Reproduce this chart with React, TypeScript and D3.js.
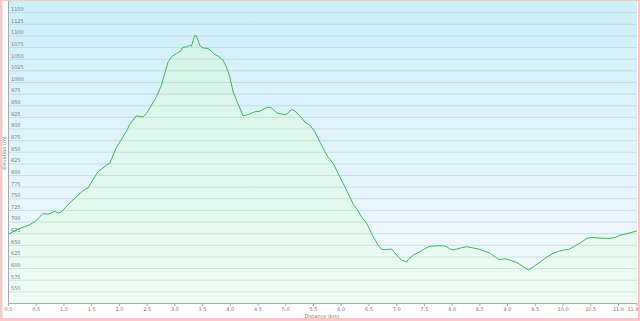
import React from "react";
import * as d3 from "d3";

const distanceKm = [0, 0.199, 0.379, 0.488, 0.619, 0.728, 0.831, 0.908, 0.957, 1.101, 1.251, 1.372, 1.432, 1.612, 1.764, 1.824, 1.945, 2.017, 2.136, 2.185, 2.306, 2.425, 2.486, 2.577, 2.667, 2.757, 2.817, 2.877, 2.938, 3.028, 3.118, 3.147, 3.209, 3.268, 3.299, 3.359, 3.389, 3.449, 3.509, 3.599, 3.66, 3.72, 3.779, 3.87, 3.931, 3.991, 4.05, 4.112, 4.231, 4.321, 4.442, 4.532, 4.623, 4.682, 4.744, 4.834, 4.924, 5.002, 5.043, 5.105, 5.164, 5.255, 5.345, 5.435, 5.526, 5.616, 5.706, 5.766, 5.856, 5.946, 6.036, 6.127, 6.217, 6.278, 6.369, 6.459, 6.519, 6.578, 6.668, 6.73, 6.82, 6.91, 7.001, 7.091, 7.181, 7.21, 7.3, 7.421, 7.512, 7.602, 7.723, 7.842, 7.903, 7.963, 8.023, 8.084, 8.175, 8.265, 8.355, 8.474, 8.595, 8.686, 8.776, 8.835, 8.897, 8.956, 9.047, 9.168, 9.287, 9.377, 9.467, 9.588, 9.709, 9.828, 9.919, 10.009, 10.099, 10.19, 10.31, 10.431, 10.522, 10.612, 10.731, 10.852, 10.942, 11.033, 11.154, 11.244, 11.334];
const elevationM = [674, 686, 694, 702, 718, 717, 723, 719, 722, 741, 757, 770, 773, 808, 822, 826, 860, 874, 897, 910, 928, 926, 933, 951, 969, 994, 1019, 1044, 1055, 1062, 1069, 1076, 1076, 1080, 1078, 1101, 1100, 1080, 1074, 1073, 1067, 1060, 1057, 1048, 1033, 1012, 980, 962, 928, 931, 937, 938, 944, 947, 945, 935, 932, 931, 934, 942, 939, 928, 915, 908, 894, 872, 851, 839, 826, 804, 783, 761, 738, 729, 711, 697, 683, 668, 650, 641, 641, 642, 629, 618, 614, 620, 629, 636, 643, 648, 649, 649, 647, 642, 640, 642, 645, 647, 645, 642, 637, 633, 625, 620, 620, 621, 618, 613, 604, 597, 604, 614, 625, 633, 637, 640, 641, 647, 655, 665, 667, 666, 665, 665, 667, 672, 675, 678, 681];

const yTicks = [550, 575, 600, 625, 650, 675, 700, 725, 750, 775, 800, 825, 850, 875, 900, 925, 950, 975, 1000, 1025, 1050, 1075, 1100, 1125, 1150];
const xTicks = [0, 0.5, 1, 1.5, 2, 2.5, 3, 3.5, 4, 4.5, 5, 5.5, 6, 6.5, 7, 7.5, 8, 8.5, 9, 9.5, 10, 10.5, 11];
const xEndLabel = "11.4";
const xTitle = "Distance (km)";
const yTitle = "Elevation (m)";

export default function App() {
  const W = 640, H = 321;
  const left = 8.5, right = 637, top = 1, bottom = 303.5;
  const x = d3.scaleLinear().domain([0, 11.334]).range([left, right]);
  const y = d3.scaleLinear().domain([525, 1175]).range([bottom, top]);
  const pts = distanceKm.map((d, i) => [d, elevationM[i]] as [number, number]);
  const line = d3.line<[number, number]>().x(d => x(d[0])).y(d => y(d[1]))(pts) || "";
  const area = d3.area<[number, number]>().x(d => x(d[0])).y0(bottom).y1(d => y(d[1]))(pts) || "";
  const font = "'DejaVu Sans', Verdana, sans-serif";
  return (
    <svg width={W} height={H} style={{ position: "absolute", left: 0, top: 0, display: "block" }}>
      <defs>
        <linearGradient id="bg" x1="0" y1="0" x2="0" y2="1">
          <stop offset="0%" stopColor="#cfeff9" />
          <stop offset="100%" stopColor="#f5f9ff" />
        </linearGradient>
        <linearGradient id="fill" x1="0" y1="0" x2="0" y2="1">
          <stop offset="0%" stopColor="#d4f4e8" />
          <stop offset="100%" stopColor="#eefcf3" />
        </linearGradient>
      </defs>
      <rect x={0} y={0} width={W} height={H} fill="#fac8c8" />
      <rect x={2.5} y={1.2} width={635.5} height={316.8} fill="#ffffff" />
      <rect x={left} y={top} width={right - left} height={bottom - top} fill="url(#bg)" />
      <path d={area} fill="url(#fill)" />
      {yTicks.map(t => (
        <line key={"g" + t} x1={left} x2={right} y1={y(t)} y2={y(t)} stroke="#9fc6cf" strokeOpacity={0.45} strokeWidth={1} />
      ))}
      <path d={line} fill="none" stroke="#3cb45a" strokeWidth={1} />
      <line x1={left} x2={left} y1={top} y2={bottom} stroke="#a8a8a8" strokeWidth={1} />
      <line x1={left} x2={right} y1={bottom} y2={bottom} stroke="#a8a8a8" strokeWidth={1} />
      {yTicks.map(t => (
        <text key={"yl" + t} x={11} y={y(t) - 1.6} fontSize={5} fill="#777" fontFamily={font}>{t}</text>
      ))}
      {xTicks.map(t => (
        <g key={"xt" + t}>
          <line x1={x(t)} x2={x(t)} y1={bottom} y2={bottom + 2.5} stroke="#a8a8a8" />
          <text x={x(t)} y={311} fontSize={5} fill="#777" textAnchor="middle" fontFamily={font}>{t.toFixed(1)}</text>
        </g>
      ))}
      <line x1={right} x2={right} y1={bottom} y2={bottom + 2.5} stroke="#a8a8a8" />
      <text x={right - 4} y={311} fontSize={5} fill="#777" textAnchor="middle" fontFamily={font}>{xEndLabel}</text>
      <text x={322} y={318} fontSize={5} fill="#777" textAnchor="middle" fontFamily={font}>{xTitle}</text>
      <text transform={`translate(6,153) rotate(-90)`} fontSize={5} fill="#777" textAnchor="middle" fontFamily={font}>{yTitle}</text>
    </svg>
  );
}
